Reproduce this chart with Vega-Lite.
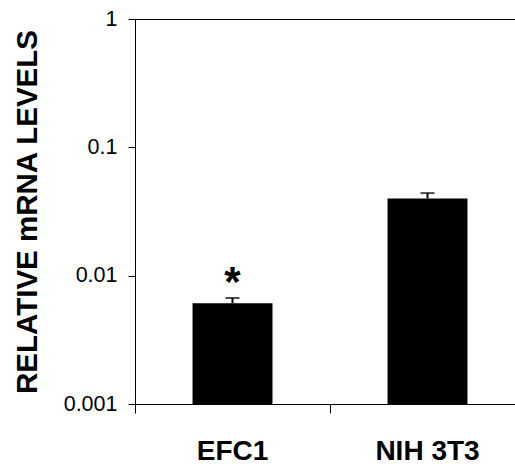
{
  "$schema": "https://vega.github.io/schema/vega-lite/v6.json",
  "autosize": "none",
  "padding": {"left": 135, "top": 19, "right": 0, "bottom": 64},
  "width": 380,
  "height": 385,
  "data": {
    "values": [
      {"cell": "EFC1", "level": 0.0061, "hi": 0.0067, "sig": "*"},
      {"cell": "NIH 3T3", "level": 0.040, "hi": 0.044, "sig": ""}
    ]
  },
  "encoding": {
    "x": {
      "field": "cell",
      "type": "nominal",
      "sort": null,
      "scale": {"type": "band", "padding": 0, "range": [0, 390]},
      "axis": {
        "title": null,
        "labelAngle": 0,
        "labelFont": "Liberation Sans",
        "labelFontWeight": "bold",
        "labelFontSize": 28,
        "labelColor": "black",
        "labelPadding": 24,
        "tickSize": 9,
        "tickColor": "black",
        "bandPosition": 0,
        "domainColor": "black"
      }
    }
  },
  "layer": [
    {
      "mark": {"type": "bar", "color": "black", "width": {"band": 0.41}},
      "encoding": {
        "y": {
          "field": "level",
          "type": "quantitative",
          "scale": {"type": "log", "domain": [0.001, 1], "nice": false},
          "axis": {
            "title": "RELATIVE mRNA LEVELS",
            "titleFont": "Liberation Sans",
            "titleFontWeight": "bold",
            "titleFontSize": 29.5,
            "titleColor": "black",
            "titlePadding": 21,
            "values": [0.001, 0.01, 0.1, 1],
            "format": "~g",
            "labelFont": "Liberation Sans",
            "labelFontSize": 21.5,
            "labelColor": "black",
            "labelPadding": 11,
            "tickSize": 7,
            "tickColor": "black",
            "domainColor": "black",
            "grid": false
          }
        },
        "y2": {"datum": 0.001}
      }
    },
    {
      "mark": {"type": "rule", "color": "black", "strokeWidth": 2},
      "encoding": {
        "y": {"field": "level", "type": "quantitative"},
        "y2": {"field": "hi"}
      }
    },
    {
      "mark": {"type": "tick", "color": "black", "thickness": 2, "size": 14, "orient": "horizontal"},
      "encoding": {
        "y": {"field": "hi", "type": "quantitative"}
      }
    },
    {
      "mark": {"type": "text", "font": "Liberation Sans", "fontWeight": "bold", "fontSize": 42, "baseline": "bottom", "dy": 7, "color": "black"},
      "encoding": {
        "y": {"field": "hi", "type": "quantitative"},
        "text": {"field": "sig"}
      }
    }
  ],
  "config": {
    "view": {"stroke": "black", "strokeWidth": 1},
    "axis": {"domainWidth": 1, "tickWidth": 1}
  }
}
